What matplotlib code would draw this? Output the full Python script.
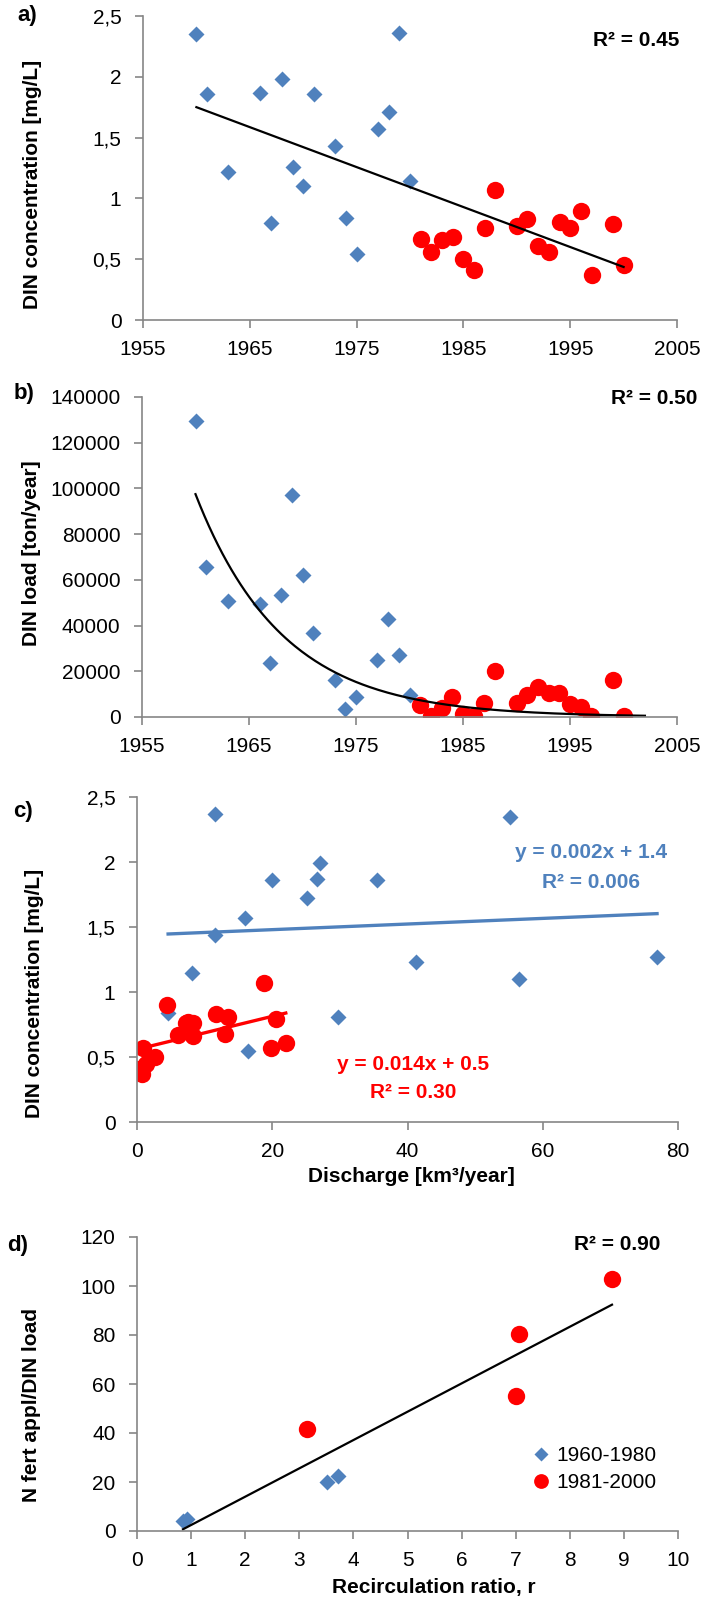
import matplotlib
matplotlib.use('Agg')
import matplotlib.pyplot as plt
import numpy as np
from matplotlib.ticker import FuncFormatter

plt.rcParams['font.family'] = ['Liberation Sans', 'DejaVu Sans']

BLUE = '#4F81BD'
RED = '#FF0000'
GREY = '#868686'

# a) DIN concentration vs year
years_early = [1960, 1961, 1963, 1966, 1967, 1968, 1969, 1970, 1971, 1973,
               1974, 1975, 1977, 1978, 1979, 1980]
conc_early = [2.35, 1.86, 1.22, 1.87, 0.80, 1.98, 1.26, 1.10, 1.86, 1.43,
              0.84, 0.54, 1.57, 1.71, 2.36, 1.14]
years_late = [1981, 1982, 1983, 1984, 1985, 1986, 1987, 1988, 1990, 1991,
              1992, 1993, 1994, 1995, 1996, 1997, 1999, 2000]
conc_late = [0.67, 0.56, 0.66, 0.68, 0.50, 0.41, 0.76, 1.07, 0.77, 0.83,
             0.61, 0.56, 0.81, 0.76, 0.90, 0.37, 0.79, 0.45]

# b) DIN load vs year
load_early = [129300, 65800, 50600, 49300, 23800, 53500, 97000, 62000, 36800, 16400,
              3700, 8800, 24800, 42800, 27000, 9500]
load_late = [5100, 300, 3900, 8800, 1500, 300, 6300, 20200, 6100, 9500,
             13200, 10700, 10500, 5900, 4400, 300, 16100, 450]
# exponential trend as shown on the chart: value at 1960 and yearly rate
load_trend_1960 = 97500
load_trend_rate = -0.1233
load_trend_years = [1960, 2002]

# c) DIN concentration vs discharge
dis_early = [11.55, 55.1, 27.0, 19.9, 26.6, 35.5, 25.1, 15.9, 11.55, 41.3,
             76.9, 8.2, 56.5, 4.6, 29.7, 16.4]
cdis_early = [2.37, 2.35, 1.99, 1.86, 1.87, 1.86, 1.72, 1.57, 1.44, 1.23,
              1.27, 1.15, 1.10, 0.84, 0.81, 0.55]
dis_late = [18.85, 4.4, 11.7, 13.4, 7.6, 8.3, 7.2, 20.5, 6.1, 8.3,
            13.0, 0.9, 19.8, 22.0, 2.7, 1.4, 0.1, 0.7]
cdis_late = [1.07, 0.90, 0.83, 0.81, 0.77, 0.76, 0.76, 0.79, 0.67, 0.66,
             0.68, 0.57, 0.57, 0.61, 0.50, 0.45, 0.41, 0.37]

# d) N fert / DIN load vs recirculation ratio
r_early = [0.85, 0.92, 3.52, 3.71]
nf_early = [4.0, 5.0, 20.0, 22.4]
r_late = [3.14, 7.0, 7.06, 8.78]
nf_late = [41.5, 55.1, 80.6, 102.8]

W, H = 714, 1600
fig = plt.figure(figsize=(W / 100, H / 100), dpi=100)

MS_D = 8.5
MS_O = 12.5
FS = 15


def px(x, y):
    return x / W, 1 - y / H


def make_ax(left, right, top, bottom):
    ax = fig.add_axes([left / W, 1 - bottom / H, (right - left) / W, (bottom - top) / H])
    for s in ['top', 'right']:
        ax.spines[s].set_visible(False)
    for s in ['left', 'bottom']:
        ax.spines[s].set_color(GREY)
        ax.spines[s].set_linewidth(1.2)
    ax.tick_params(direction='out', length=5.5, width=1.2, color=GREY,
                   labelsize=FS, pad=10)
    ax.tick_params(axis='x', pad=9)
    return ax


comma = FuncFormatter(lambda v, p: ('%g' % v).replace('.', ','))

# ---- a)
ax = make_ax(143, 677, 16, 320)
ax.plot(years_early, conc_early, 'D', color=BLUE, ms=MS_D, mec='none')
ax.plot(years_late, conc_late, 'o', color=RED, ms=MS_O, mec='none')
xa = np.array(years_early + years_late)
ya = np.array(conc_early + conc_late)
k, b0 = np.polyfit(xa, ya, 1)
xx = np.array([xa.min(), xa.max()])
ax.plot(xx, k * xx + b0, color='black', lw=1.6)
ax.set_xlim(1955, 2005)
ax.set_ylim(0, 2.5)
ax.set_xticks(range(1955, 2006, 10))
ax.set_yticks(np.arange(0, 2.51, 0.5))
ax.yaxis.set_major_formatter(comma)
fig.text(*px(27, 15), 'a)', fontsize=16, fontweight='bold', ha='center', va='center')
fig.text(*px(33, 184), 'DIN concentration [mg/L]', fontsize=15, fontweight='bold',
         rotation=90, ha='center', va='center')
fig.text(*px(679, 40), 'R² = 0.45', fontsize=15, fontweight='bold', ha='right', va='center')

# ---- b)
ax = make_ax(142, 677, 397, 717)
ax.plot(years_early, load_early, 'D', color=BLUE, ms=MS_D, mec='none')
ax.plot(years_late, load_late, 'o', color=RED, ms=MS_O, mec='none')
xx = np.linspace(load_trend_years[0], load_trend_years[1], 200)
ax.plot(xx, load_trend_1960 * np.exp(load_trend_rate * (xx - 1960)), color='black', lw=1.6)
ax.set_xlim(1955, 2005)
ax.set_ylim(0, 140000)
ax.set_xticks(range(1955, 2006, 10))
ax.set_yticks(range(0, 140001, 20000))
fig.text(*px(24, 393), 'b)', fontsize=16, fontweight='bold', ha='center', va='center')
fig.text(*px(32, 553), 'DIN load [ton/year]', fontsize=15, fontweight='bold',
         rotation=90, ha='center', va='center')
fig.text(*px(697, 399), 'R² = 0.50', fontsize=15, fontweight='bold', ha='right', va='center')

# ---- c)
ax = make_ax(137, 678, 797, 1122)
ax.plot(dis_early, cdis_early, 'D', color=BLUE, ms=MS_D, mec='none')
ax.plot(dis_late, cdis_late, 'o', color=RED, ms=MS_O, mec='none')
for xs, ys, col in [(dis_early, cdis_early, BLUE), (dis_late, cdis_late, RED)]:
    xs = np.array(xs)
    kc, cc = np.polyfit(xs, np.array(ys), 1)
    xx = np.array([xs.min(), xs.max()])
    ax.plot(xx, kc * xx + cc, color=col, lw=2.4)
ax.set_xlim(0, 80)
ax.set_ylim(0, 2.5)
ax.set_xticks(range(0, 81, 20))
ax.set_yticks(np.arange(0, 2.51, 0.5))
ax.yaxis.set_major_formatter(comma)
fig.text(*px(23, 812), 'c)', fontsize=16, fontweight='bold', ha='center', va='center')
fig.text(*px(35, 993), 'DIN concentration [mg/L]', fontsize=15, fontweight='bold',
         rotation=90, ha='center', va='center')
fig.text(*px(411, 1176), 'Discharge [km³/year]', fontsize=15, fontweight='bold',
         ha='center', va='center')
fig.text(*px(591, 853), 'y = 0.002x + 1.4', fontsize=15, fontweight='bold',
         color=BLUE, ha='center', va='center')
fig.text(*px(591, 882), 'R² = 0.006', fontsize=15, fontweight='bold',
         color=BLUE, ha='center', va='center')
fig.text(*px(413, 1065), 'y = 0.014x + 0.5', fontsize=15, fontweight='bold',
         color=RED, ha='center', va='center')
fig.text(*px(413, 1092), 'R² = 0.30', fontsize=15, fontweight='bold',
         color=RED, ha='center', va='center')

# ---- d)
ax = make_ax(137, 678, 1237, 1531)
ax.plot(r_early, nf_early, 'D', color=BLUE, ms=MS_D, mec='none', label='1960-1980')
ax.plot(r_late, nf_late, 'o', color=RED, ms=MS_O, mec='none', label='1981-2000')
xd = np.array(r_early + r_late)
yd = np.array(nf_early + nf_late)
kd, cd = np.polyfit(xd, yd, 1)
xx = np.array([xd.min(), xd.max()])
ax.plot(xx, kd * xx + cd, color='black', lw=1.6)
ax.set_xlim(0, 10)
ax.set_ylim(0, 120)
ax.set_xticks(range(0, 11))
ax.set_yticks(range(0, 121, 20))
ax.legend(loc='center left', bbox_to_anchor=px(533, 1469), bbox_transform=fig.transFigure,
          frameon=False, fontsize=FS, handlelength=0.8, handletextpad=0.3,
          labelspacing=0.4, borderpad=0, borderaxespad=0, markerscale=0.85)
fig.text(*px(18, 1245), 'd)', fontsize=16, fontweight='bold', ha='center', va='center')
fig.text(*px(32, 1405), 'N fert appl/DIN load', fontsize=15, fontweight='bold',
         rotation=90, ha='center', va='center')
fig.text(*px(434, 1587), 'Recirculation ratio, r', fontsize=15, fontweight='bold',
         ha='center', va='center')
fig.text(*px(660, 1245), 'R² = 0.90', fontsize=15, fontweight='bold', ha='right', va='center')

fig.savefig('out.png', dpi=100)
